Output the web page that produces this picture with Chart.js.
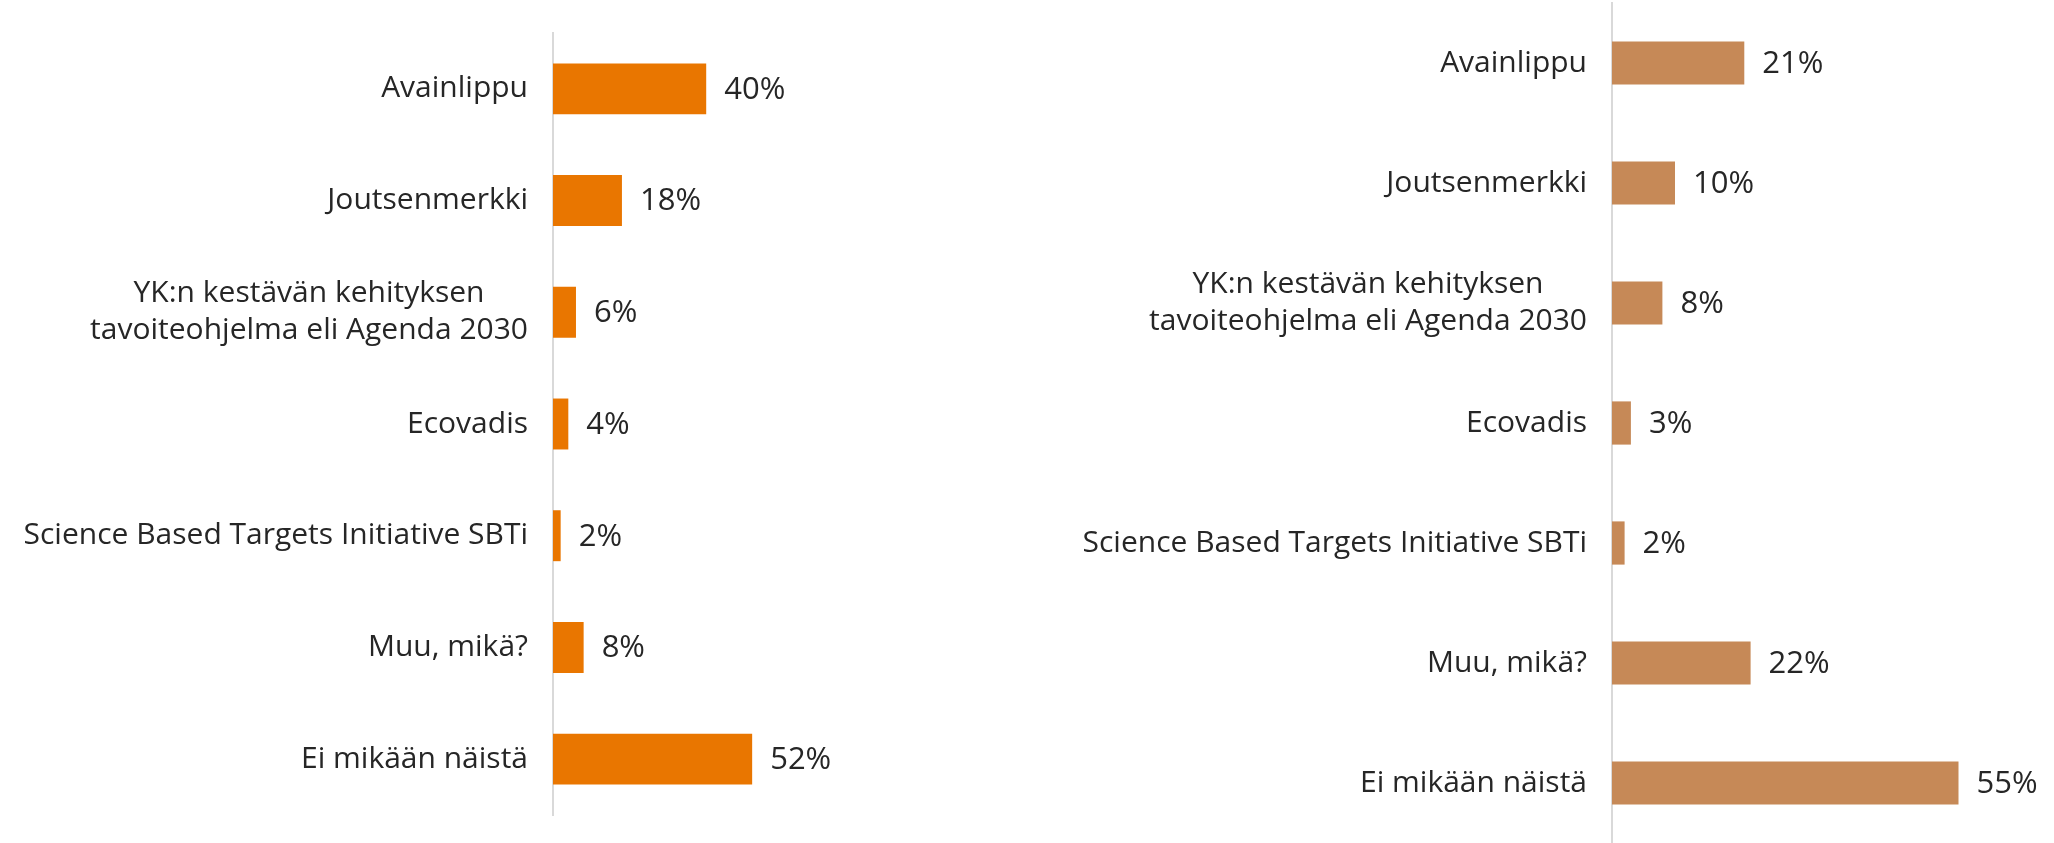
<!DOCTYPE html>
<html>
<head>
<meta charset="utf-8">
<script src="https://cdn.jsdelivr.net/npm/chart.js@4"></script>
<style>
  body { margin: 0; background: #fff; width: 2054px; height: 843px; position: relative; overflow: hidden; }
  .box { position: absolute; top: 0; height: 843px; }
  #box1 { left: 0; width: 1000px; }
  #box2 { left: 1027px; width: 1027px; }
</style>
</head>
<body>
<div class="box" id="box1"><canvas id="chart1"></canvas></div>
<div class="box" id="box2"><canvas id="chart2"></canvas></div>
<script>
var categories = [
  "Avainlippu",
  "Joutsenmerkki",
  ["YK:n kestävän kehityksen", "tavoiteohjelma eli Agenda 2030"],
  "Ecovadis",
  "Science Based Targets Initiative SBTi",
  "Muu, mikä?",
  "Ei mikään näistä"
];
var values1 = [40, 18, 6, 4, 2, 8, 52];
var values2 = [21, 10, 8, 3, 2, 22, 55];

var textColor = "#262626";
var fontFamily = "'Open Sans', Roboto, sans-serif";
var catFontSize = 30;
var valFontSize = 31;

// category names and value labels drawn next to the bars
var labelsPlugin = {
  id: "barLabels",
  afterDatasetsDraw: function(chart) {
    var ctx = chart.ctx;
    var yScale = chart.scales.y;
    var meta = chart.getDatasetMeta(0);
    var axisX = chart.chartArea.left;
    ctx.save();
    ctx.fillStyle = textColor;
    ctx.textBaseline = "middle";
    categories.forEach(function(cat, i) {
      var lines = Array.isArray(cat) ? cat : [cat];
      var cy = yScale.getPixelForValue(i);
      ctx.font = catFontSize + "px " + fontFamily;
      var maxW = 0;
      lines.forEach(function(l) { maxW = Math.max(maxW, ctx.measureText(l).width); });
      var right = axisX - 25;
      var lh = 37;
      ctx.textAlign = "center";
      lines.forEach(function(l, j) {
        var ly = cy + (j - (lines.length - 1) / 2) * lh;
        ctx.fillText(l, right - maxW / 2, ly);
      });
      var bar = meta.data[i];
      ctx.font = valFontSize + "px " + fontFamily;
      ctx.textAlign = "left";
      ctx.fillText(chart.data.datasets[0].data[i] + "%", bar.x + 18, bar.y + 1);
    });
    ctx.restore();
  }
};

function makeChart(id, values, color, xMax, axisWidth, barPct, padTop, padBottom) {
  var config = {
    type: "bar",
    data: {
      labels: categories,
      datasets: [{
        data: values,
        backgroundColor: color,
        borderWidth: 0,
        barPercentage: barPct,
        categoryPercentage: 1
      }]
    },
    options: {
      indexAxis: "y",
      responsive: true,
      maintainAspectRatio: false,
      animation: false,
      layout: { padding: { top: padTop, bottom: padBottom, right: 64, left: 0 } },
      plugins: { legend: { display: false }, tooltip: { enabled: false } },
      scales: {
        x: { display: false, min: 0, max: xMax },
        y: {
          grid: { display: false },
          border: { display: true, color: "#d9d9d9", width: 2 },
          ticks: { display: false },
          afterFit: function(scale) { scale.width = axisWidth; }
        }
      }
    },
    plugins: [labelsPlugin]
  };
  var canvas = document.getElementById(id).getContext("2d");
  return new Chart(canvas, config);
}

makeChart("chart1", values1, "#E97600", 100, 553, 0.456, 33, 28);
makeChart("chart2", values2, "#C68957", 60, 585, 0.36, 3, 0);
</script>
</body>
</html>
